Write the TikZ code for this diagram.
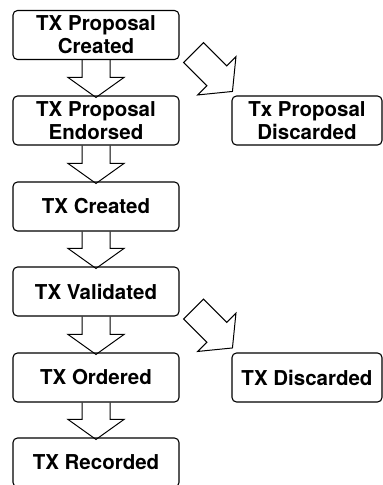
\documentclass[tikz,border=0pt]{standalone}
\usepackage{fontspec}
\setmainfont{TeX Gyre Heros}
\usetikzlibrary{calc}
\tikzset{
  stepbox/.style={draw, line width=1.1pt, rounded corners=4.5pt, fill=white,
    minimum width=166pt, minimum height=49pt, inner sep=0pt, align=center,
    font=\bfseries\fontsize{20.5}{23}\selectfont},
  sidebox/.style={stepbox, minimum width=150pt},
  blockarrow/.style={draw, line width=1.0pt, line join=miter},
  pics/diagarrow/.style={code={
    \draw[blockarrow] (4.1,2.4) -- (23.9,-17.4) -- (47.2,5.9) -- (56.4,-3.3)
      -- (52.9,31.4) -- (18.2,34.9) -- (27.4,25.7) -- cycle;}}
}
\begin{document}
\begin{tikzpicture}[x=1pt, y=-1pt]
\useasboundingbox (0,0) rectangle (383,485);
\node[stepbox] (b1) at (96,35) {TX Proposal\\Created};
\node[stepbox] (b2) at (96,120.5) {TX Proposal\\Endorsed};
\node[stepbox] (b3) at (96,206.5) {TX Created};
\node[stepbox] (b4) at (96,291.5) {TX Validated};
\node[stepbox] (b5) at (96,377.5) {TX Ordered};
\node[stepbox] (b6) at (96,462.5) {TX Recorded};
\node[sidebox] (d1) at (307,120.5) {Tx Proposal\\Discarded};
\node[sidebox] (d2) at (307,377.5) {TX Discarded};
\foreach \a/\b in {b1/b2, b2/b3, b3/b4, b4/b5, b5/b6}{
  \draw[blockarrow] ($(\a.south)+(-14,0)$) -- ($(\b.north)+(-14,-18)$)
    -- ($(\b.north)+(-28,-18)$) -- ($(\b.north)+(0,2)$)
    -- ($(\b.north)+(28,-18)$) -- ($(\b.north)+(14,-18)$)
    -- ($(\a.south)+(14,0)$);
}
\pic at (b1.south east) {diagarrow};
\pic at (b4.south east) {diagarrow};
\end{tikzpicture}
\end{document}
